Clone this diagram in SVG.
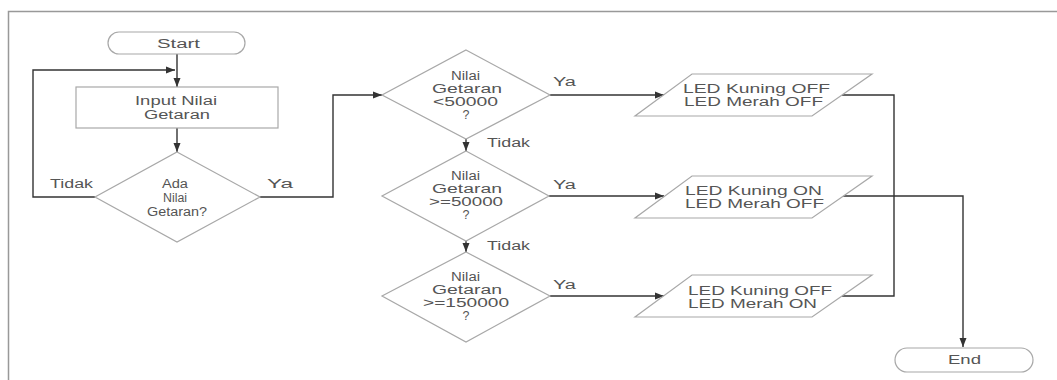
<svg xmlns="http://www.w3.org/2000/svg" width="1057" height="380" viewBox="0 0 1057 380">
<style>
.shape{fill:#fff;stroke:#a8a8a8;stroke-width:1.2}
.conn{fill:none;stroke:#333;stroke-width:1.4}
text{font-family:"Liberation Sans",Arial,sans-serif;font-size:12.5px;fill:#555}
.frame{fill:none;stroke:#999;stroke-width:1.5}
</style>
<defs>
<marker id="arr" markerUnits="userSpaceOnUse" markerWidth="10" markerHeight="8" refX="9" refY="4" orient="auto">
<path d="M0,0.5 L9,4 L0,7.5 Z" fill="#333"/>
</marker>
</defs>
<rect width="1057" height="380" fill="#fff"/>
<path class="frame" d="M8.5,380 V11.5 H1057"/>

<g id="connectors">
<path class="conn" d="M177,54 V87" marker-end="url(#arr)"/>
<path class="conn" d="M95,197 H33 V70 H175" marker-end="url(#arr)"/>
<path class="conn" d="M177,128 V152" marker-end="url(#arr)"/>
<path class="conn" d="M260,197 H333 V95 H382" marker-end="url(#arr)"/>
<path class="conn" d="M550,95 H664" marker-end="url(#arr)"/>
<path class="conn" d="M466,139 V151" marker-end="url(#arr)"/>
<path class="conn" d="M549,196 H664" marker-end="url(#arr)"/>
<path class="conn" d="M466,241 V252" marker-end="url(#arr)"/>
<path class="conn" d="M550,296 H664" marker-end="url(#arr)"/>
<path class="conn" d="M842,95 H894 V296 H842"/>
<path class="conn" d="M842,196 H963 V347" marker-end="url(#arr)"/>
</g>

<g id="labels">
<text x="50" y="188" textLength="43" lengthAdjust="spacingAndGlyphs">Tidak</text>
<text x="267" y="188" textLength="26" lengthAdjust="spacingAndGlyphs">Ya</text>
<text x="553" y="86" textLength="23" lengthAdjust="spacingAndGlyphs">Ya</text>
<text x="487" y="147" textLength="43" lengthAdjust="spacingAndGlyphs">Tidak</text>
<text x="553" y="189" textLength="23" lengthAdjust="spacingAndGlyphs">Ya</text>
<text x="487" y="250" textLength="43" lengthAdjust="spacingAndGlyphs">Tidak</text>
<text x="553" y="289" textLength="23" lengthAdjust="spacingAndGlyphs">Ya</text>
</g>

<g id="start">
<rect class="shape" x="108" y="32" width="137" height="22" rx="11"/>
<text x="157" y="48" textLength="43" lengthAdjust="spacingAndGlyphs">Start</text>
</g>

<g id="input">
<rect class="shape" x="76" y="87" width="202" height="41"/>
<text x="135" y="105" textLength="82" lengthAdjust="spacingAndGlyphs">Input Nilai</text>
<text x="144" y="119" textLength="66" lengthAdjust="spacingAndGlyphs">Getaran</text>
</g>

<g id="d1">
<polygon class="shape" points="177,152 260,197 177,242 95,197"/>
<text x="162" y="188" textLength="26" lengthAdjust="spacingAndGlyphs">Ada</text>
<text x="163" y="202" textLength="24" lengthAdjust="spacingAndGlyphs">Nilai</text>
<text x="147" y="216" textLength="60" lengthAdjust="spacingAndGlyphs">Getaran?</text>
</g>

<g id="d2">
<polygon class="shape" points="466,50 550,95 466,139 382,95"/>
<text x="451" y="80" textLength="29" lengthAdjust="spacingAndGlyphs">Nilai</text>
<text x="432" y="93" textLength="70" lengthAdjust="spacingAndGlyphs">Getaran</text>
<text x="433" y="106" textLength="65" lengthAdjust="spacingAndGlyphs">&lt;50000</text>
<text x="466" y="119" text-anchor="middle">?</text>
</g>

<g id="d3">
<polygon class="shape" points="466,151 549,196 466,241 382,196"/>
<text x="451" y="180" textLength="29" lengthAdjust="spacingAndGlyphs">Nilai</text>
<text x="432" y="193" textLength="70" lengthAdjust="spacingAndGlyphs">Getaran</text>
<text x="429" y="206" textLength="74" lengthAdjust="spacingAndGlyphs">&gt;=50000</text>
<text x="466" y="219" text-anchor="middle">?</text>
</g>

<g id="d4">
<polygon class="shape" points="466,252 550,296 466,342 382,296"/>
<text x="451" y="281" textLength="29" lengthAdjust="spacingAndGlyphs">Nilai</text>
<text x="432" y="294" textLength="70" lengthAdjust="spacingAndGlyphs">Getaran</text>
<text x="423" y="307" textLength="86" lengthAdjust="spacingAndGlyphs">&gt;=150000</text>
<text x="466" y="320" text-anchor="middle">?</text>
</g>

<g id="p1">
<polygon class="shape" points="692,74 872,74 812,116 635,116"/>
<text x="683" y="93" textLength="147" lengthAdjust="spacingAndGlyphs">LED Kuning OFF</text>
<text x="684" y="106" textLength="139" lengthAdjust="spacingAndGlyphs">LED Merah OFF</text>
</g>

<g id="p2">
<polygon class="shape" points="692,176 872,176 812,218 635,218"/>
<text x="685" y="195" textLength="137" lengthAdjust="spacingAndGlyphs">LED Kuning ON</text>
<text x="685" y="208" textLength="139" lengthAdjust="spacingAndGlyphs">LED Merah OFF</text>
</g>

<g id="p3">
<polygon class="shape" points="692,275 872,275 812,317 635,317"/>
<text x="688" y="295" textLength="144" lengthAdjust="spacingAndGlyphs">LED Kuning OFF</text>
<text x="688" y="308" textLength="129" lengthAdjust="spacingAndGlyphs">LED Merah ON</text>
</g>

<g id="end">
<rect class="shape" x="895" y="348" width="138" height="24" rx="12"/>
<text x="948" y="364" textLength="33" lengthAdjust="spacingAndGlyphs">End</text>
</g>
</svg>
